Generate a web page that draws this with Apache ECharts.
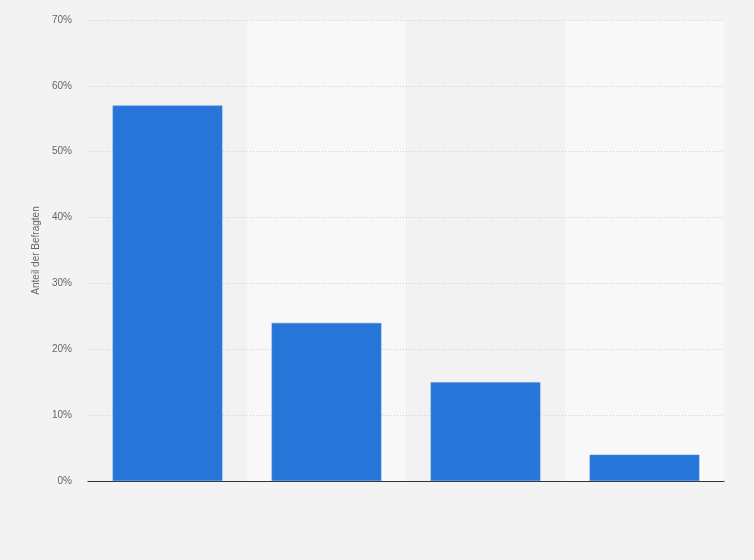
<!DOCTYPE html>
<html><head><meta charset="utf-8">
<script src="https://cdn.jsdelivr.net/npm/echarts@6/dist/echarts.min.js"></script>
<style>html,body{margin:0;padding:0;background:#f3f3f3}#c{width:754px;height:560px}</style>
</head><body><div id="c"></div>
<script>
const categories = ['1', '2', '3', '4'];
const values = [57, 24, 15, 4];
const yTicks = [0, 10, 20, 30, 40, 50, 60, 70];

const chart = echarts.init(document.getElementById('c'), null, {renderer: 'canvas'});
chart.setOption({
  backgroundColor: '#f3f3f3',
  animation: false,
  grid: {left: 88, right: 30, top: 20, bottom: 79},
  xAxis: {
    type: 'category',
    data: categories,
    z: 0,
    axisLine: {lineStyle: {color: '#333', width: 1.2}},
    axisTick: {show: false},
    axisLabel: {show: false},
    splitArea: {show: true, areaStyle: {color: ['#f2f2f2', '#f8f8f8']}}
  },
  yAxis: {
    type: 'value',
    z: 1,
    min: yTicks[0], max: yTicks[yTicks.length - 1], interval: 10,
    name: 'Anteil der Befragten',
    nameLocation: 'middle',
    nameGap: 43,
    nameTextStyle: {color: '#666', fontSize: 10, fontFamily: 'Arial, Liberation Sans'},
    axisLine: {show: false},
    axisTick: {show: false},
    axisLabel: {formatter: '{value}%', color: '#666', fontSize: 10, margin: 16, fontFamily: 'Arial, Liberation Sans'},
    splitLine: {showMinLine: false, lineStyle: {color: '#d0d0d0', type: [1, 2]}}
  },
  series: [{
    type: 'bar',
    z: 2,
    data: values,
    barCategoryGap: '31%',
    itemStyle: {color: '#2775d9', borderColor: '#4f8fe3', borderWidth: 0.5}
  }]
});
</script></body></html>
